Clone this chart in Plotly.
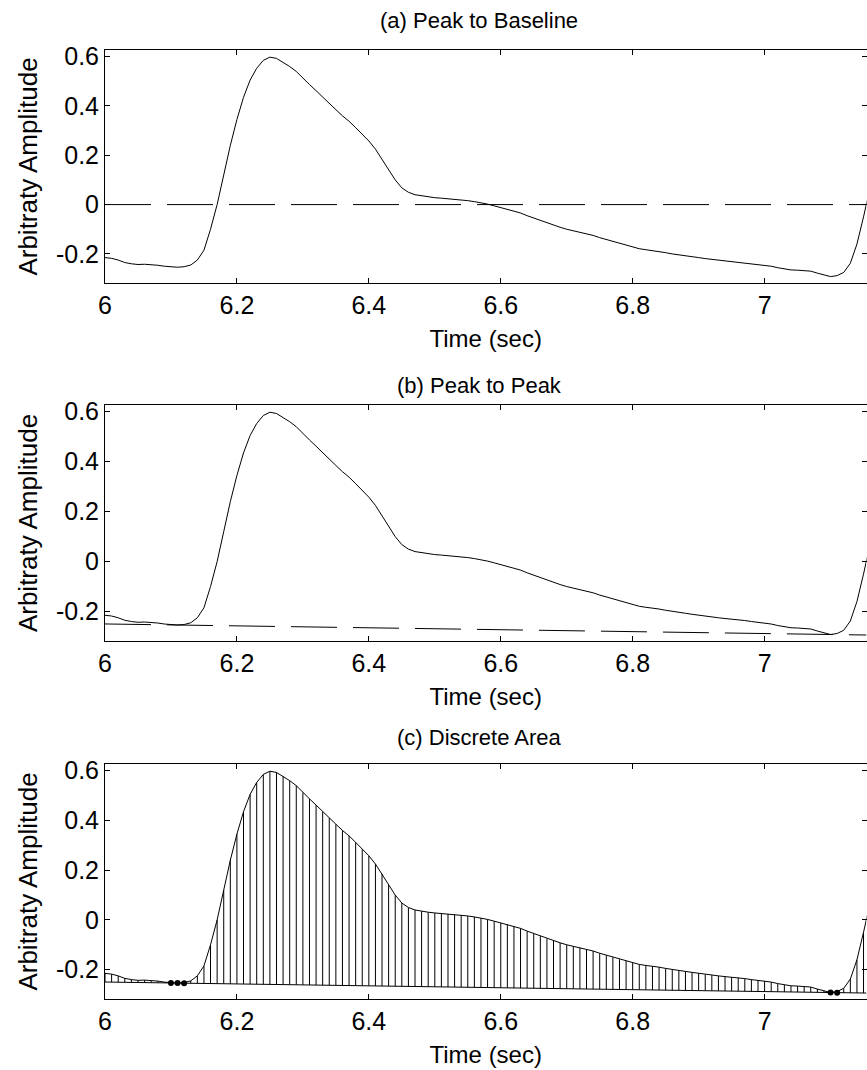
import numpy as np
import plotly.graph_objects as go

# Pulse waveform sampled at 100 Hz starting at t = 6.00 s
start_time = 6.00
sample_rate = 100.0
amplitude = [
    -0.215, -0.218, -0.225, -0.235, -0.240, -0.243, -0.242, -0.243, -0.246, -0.250,  # 6.00-6.09
    -0.253, -0.254, -0.252, -0.245, -0.225, -0.185, -0.100, 0.000, 0.120, 0.240,     # 6.10-6.19
    0.345, 0.435, 0.505, 0.553, 0.585, 0.598, 0.593, 0.578, 0.560, 0.540,            # 6.20-6.29
    0.512, 0.487, 0.462, 0.435, 0.410, 0.385, 0.360, 0.338, 0.312, 0.285,            # 6.30-6.39
    0.258, 0.225, 0.185, 0.140, 0.100, 0.068, 0.050, 0.040, 0.035, 0.031,            # 6.40-6.49
    0.028, 0.026, 0.024, 0.022, 0.019, 0.016, 0.012, 0.008, 0.002, -0.005,           # 6.50-6.59
    -0.012, -0.018, -0.026, -0.034, -0.045, -0.055, -0.065, -0.075, -0.084, -0.092,  # 6.60-6.69
    -0.100, -0.106, -0.112, -0.118, -0.125, -0.134, -0.142, -0.150, -0.158, -0.165,  # 6.70-6.79
    -0.172, -0.179, -0.183, -0.186, -0.190, -0.195, -0.200, -0.203, -0.207, -0.211,  # 6.80-6.89
    -0.215, -0.219, -0.222, -0.225, -0.228, -0.230, -0.232, -0.236, -0.240, -0.243,  # 6.90-6.99
    -0.245, -0.250, -0.256, -0.262, -0.265, -0.266, -0.267, -0.270, -0.278, -0.285,  # 7.00-7.09
    -0.292, -0.288, -0.275, -0.238, -0.160, -0.050, 0.070,                           # 7.10-7.16
]

# Samples flagged at the troughs (lying on the peak-to-peak baseline)
trough_times = [6.10, 6.11, 6.12, 7.10, 7.11]

panel_titles = ["(a) Peak to Baseline", "(b) Peak to Peak", "(c) Discrete Area"]
x_label = "Time (sec)"
y_label = "Arbitraty Amplitude"
x_tick_vals = [6.0, 6.2, 6.4, 6.6, 6.8, 7.0]
x_tick_text = ["6", "6.2", "6.4", "6.6", "6.8", "7"]
y_tick_vals = [-0.2, 0.0, 0.2, 0.4, 0.6]
y_tick_text = ["-0.2", "0", "0.2", "0.4", "0.6"]
x_range = [6.0, 7.1545]
y_range = [-0.318, 0.627]

amp = np.array(amplitude)
t = start_time + np.arange(len(amp)) / sample_rate

# Peak-to-peak baseline: straight line through the two troughs
half = len(amp) // 2
i1 = int(np.argmin(amp[:half]))
i2 = half + int(np.argmin(amp[half:]))
slope = (amp[i2] - amp[i1]) / (t[i2] - t[i1])


def baseline(x):
    return amp[i1] + slope * (np.asarray(x) - t[i1])


FONT = "Liberation Sans, Arial, sans-serif"
W, H = 867, 1070
line_style = dict(color="black", width=1)
dash_style = dict(color="black", width=1, dash="46px,16px")

fig = go.Figure()

# (a) waveform with zero baseline
fig.add_trace(go.Scatter(x=t, y=amp, mode="lines", line=line_style,
                         xaxis="x", yaxis="y", showlegend=False))
fig.add_trace(go.Scatter(x=x_range, y=[0, 0], mode="lines", line=dash_style,
                         xaxis="x", yaxis="y", showlegend=False))

# (b) waveform with trough-to-trough baseline
fig.add_trace(go.Scatter(x=t, y=amp, mode="lines", line=line_style,
                         xaxis="x2", yaxis="y2", showlegend=False))
fig.add_trace(go.Scatter(x=x_range, y=baseline(x_range), mode="lines", line=dash_style,
                         xaxis="x2", yaxis="y2", showlegend=False))

# (c) discrete area: one vertical segment per sample between baseline and signal
stem_x, stem_y = [], []
for ti, ai in zip(t, amp):
    stem_x += [ti, ti, None]
    stem_y += [float(baseline(ti)), ai, None]
fig.add_trace(go.Scatter(x=stem_x, y=stem_y, mode="lines", line=line_style,
                         xaxis="x3", yaxis="y3", showlegend=False, connectgaps=False))
fig.add_trace(go.Scatter(x=x_range, y=baseline(x_range), mode="lines", line=line_style,
                         xaxis="x3", yaxis="y3", showlegend=False))
fig.add_trace(go.Scatter(x=t, y=amp, mode="lines", line=line_style,
                         xaxis="x3", yaxis="y3", showlegend=False))
fig.add_trace(go.Scatter(x=trough_times, y=baseline(trough_times), mode="markers",
                         marker=dict(color="black", size=6),
                         xaxis="x3", yaxis="y3", showlegend=False))

# Axes boxes (px from top of page)
boxes = [(50, 283), (405, 641), (764, 999)]
x_domain = [105 / W, 866.5 / W]
title_y = [20, 385, 737]

layout = dict(
    width=W, height=H,
    margin=dict(l=0, r=0, t=0, b=0),
    paper_bgcolor="white", plot_bgcolor="white",
    font=dict(family=FONT, color="black"),
    showlegend=False,
    annotations=[],
)
for k, (top, bot) in enumerate(boxes):
    sx = "" if k == 0 else str(k + 1)
    layout["xaxis" + sx] = dict(
        domain=x_domain, range=x_range, anchor="y" + sx,
        tickvals=x_tick_vals, ticktext=x_tick_text,
        ticks="inside", ticklen=5, tickcolor="black", tickwidth=1,
        showline=True, linecolor="black", linewidth=1, mirror="ticks",
        showgrid=False, zeroline=False, automargin=False,
        tickfont=dict(size=25, family=FONT, color="black"),
        title=dict(text=x_label, font=dict(size=24, family=FONT, color="black"), standoff=12),
    )
    layout["yaxis" + sx] = dict(
        domain=[1 - bot / H, 1 - top / H], range=y_range, anchor="x" + sx,
        tickvals=y_tick_vals, ticktext=y_tick_text,
        ticks="inside", ticklen=5, tickcolor="black", tickwidth=1,
        showline=True, linecolor="black", linewidth=1, mirror="ticks",
        showgrid=False, zeroline=False, automargin=False,
        tickfont=dict(size=25, family=FONT, color="black"),
        title=dict(text=y_label, font=dict(size=26, family=FONT, color="black"), standoff=10),
    )
    layout["annotations"].append(dict(
        text=panel_titles[k], x=479 / W, y=1 - title_y[k] / H,
        xref="paper", yref="paper", xanchor="center", yanchor="middle",
        showarrow=False, font=dict(size=22, family=FONT, color="black"),
    ))

fig.update_layout(**layout)
fig.write_html("out.html")
